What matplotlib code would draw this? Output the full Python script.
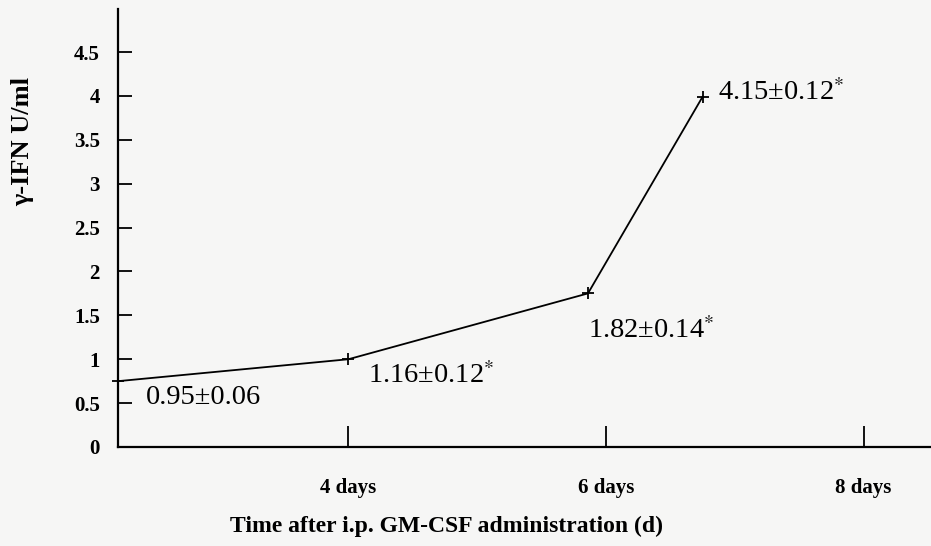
import matplotlib
matplotlib.use("Agg")
import matplotlib.pyplot as plt
from matplotlib.ticker import FuncFormatter

plt.rcParams['font.family'] = ['Liberation Serif', 'DejaVu Serif']
plt.rcParams['mathtext.fontset'] = 'stix'

# Data (days after GM-CSF, gamma-IFN U/ml as plotted)
days = [2.21, 4.0, 5.86, 6.75]
ifn = [0.75, 1.0, 1.75, 3.99]
labels = ["0.95±0.06", "1.16±0.12$^{*}$", "1.82±0.14$^{*}$", "4.15±0.12$^{*}$"]
label_x = [2.43, 4.15, 5.86, 6.87]
label_y = [0.56, 0.81, 1.33, 4.04]
xtick_pos = [4, 6, 8]
xtick_labels = ["4 days", "6 days", "8 days"]
ytick_pos = [0, 0.5, 1, 1.5, 2, 2.5, 3, 3.5, 4, 4.5]

bg = '#f6f6f5'
fig = plt.figure(figsize=(9.31, 5.46), dpi=100, facecolor=bg)
ax = fig.add_axes([118/931, 1 - 447/546, 1 - 118/931, (447 - 9)/546])
ax.set_facecolor(bg)

ax.plot(days, ifn, color='black', lw=1.3, marker='+', markersize=9,
        markeredgewidth=1.3, clip_on=False, zorder=3)

for x, y, t in zip(label_x, label_y, labels):
    ax.text(x, y, t, fontsize=20.5, ha='left', va='center', color='black')

ax.set_xlim(2.21, 8.524)
ax.set_ylim(0, 4.99)

for s in ['top', 'right']:
    ax.spines[s].set_visible(False)
for s in ['left', 'bottom']:
    ax.spines[s].set_linewidth(1.6)
    ax.spines[s].set_color('black')

ax.set_yticks(ytick_pos)
ax.yaxis.set_major_formatter(FuncFormatter(lambda v, p: f"{v:g}"))
ax.tick_params(axis='y', direction='in', length=10, width=1.3, pad=13,
               labelsize=15)
ax.set_xticks(xtick_pos)
ax.set_xticklabels(xtick_labels)
ax.tick_params(axis='x', direction='in', length=15, width=1.3, pad=22,
               labelsize=15)
for lab in ax.get_yticklabels() + ax.get_xticklabels():
    lab.set_fontweight('bold')

ax.set_xlabel("Time after i.p. GM-CSF administration (d)", fontsize=17,
              fontweight='bold')
ax.xaxis.set_label_coords((446 - 118) / (931 - 118), -(516 - 447) / 438)
ax.set_ylabel("γ-IFN U/ml", fontsize=19, fontweight='bold')
ax.yaxis.set_label_coords(-(118 - 34) / (931 - 118), (447 - 142) / 438)

fig.savefig("out.png", dpi=100, facecolor=bg)
